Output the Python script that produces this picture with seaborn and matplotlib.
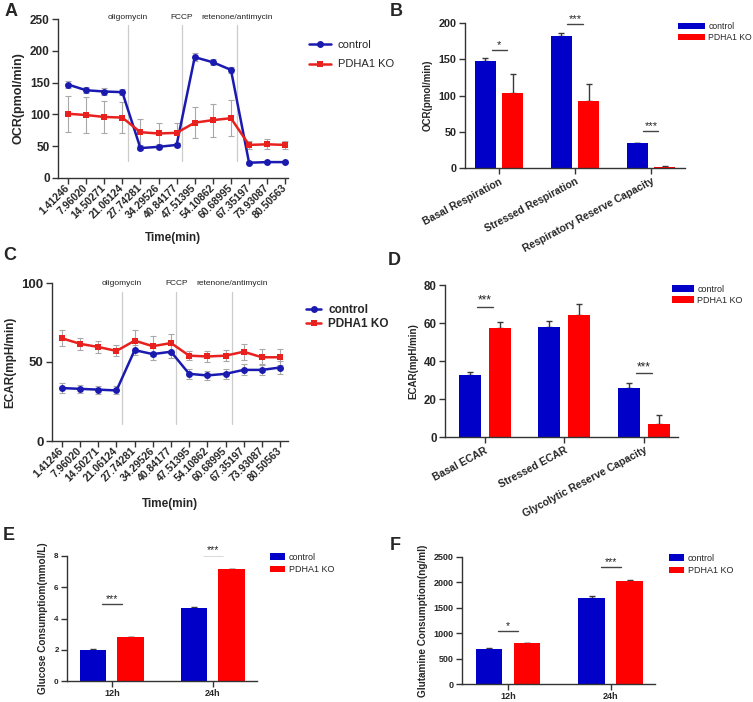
import numpy as np
import pandas as pd
import matplotlib
matplotlib.use("Agg")
import matplotlib.pyplot as plt
import seaborn as sns

# ---- data ----
time_labels = ["1.41246", "7.96020", "14.50271", "21.06124", "27.74281", "34.29526",
               "40.84177", "47.51395", "54.10862", "60.68995", "67.35197", "73.93087", "80.50563"]
injections = ["oligomycin", "FCCP", "retenone/antimycin"]
groups = ["control", "PDHA1 KO"]

ocr_ctrl = [147, 138, 136, 135, 47, 49, 52, 190, 182, 170, 24, 25, 25]
ocr_ctrl_err = [5, 5, 5, 5, 3, 3, 3, 6, 5, 5, 2, 2, 2]
ocr_ko = [101, 99, 96, 95, 72, 70, 71, 87, 91, 94, 52, 53, 52]
ocr_ko_err = [28, 29, 25, 25, 20, 17, 16, 24, 26, 28, 6, 8, 6]

ecar_ctrl = [33.5, 33, 32.5, 32, 57.5, 55, 56.5, 42.5, 41.5, 42.5, 45, 45, 46.5]
ecar_ctrl_err = [3, 2.5, 2.5, 2.5, 3, 4, 4, 3, 3, 3, 3.5, 3.5, 4]
ecar_ko = [65, 61.5, 59.5, 57, 63.5, 60, 62, 54, 53.5, 54, 56.5, 53, 53]
ecar_ko_err = [5, 4, 4, 3.5, 7, 6.5, 6, 3, 3.5, 3.5, 5, 5, 5]

ocr_cats = ["Basal Respiration", "Stressed Respiration", "Respiratory Reserve Capacity"]
ocr_bar_ctrl = [148, 182, 34]
ocr_bar_ctrl_err = [4, 4, 1]
ocr_bar_ko = [103, 92, 2]
ocr_bar_ko_err = [26, 24, 1]
ocr_sig = [(0, 163, "*"), (1, 199, "***"), (2, 51, "***")]

ecar_cats = ["Basal ECAR", "Stressed ECAR", "Glycolytic Reserve Capacity"]
ecar_bar_ctrl = [32.5, 58, 26]
ecar_bar_ctrl_err = [1.5, 3, 2.5]
ecar_bar_ko = [57.5, 64, 7]
ecar_bar_ko_err = [3, 6, 4.5]
ecar_sig = [(0, 68.6, "***"), (2, 33.7, "***")]

hours = ["12h", "24h"]
glc_ctrl = [2.0, 4.7]
glc_ctrl_err = [0.03, 0.02]
glc_ko = [2.8, 7.15]
glc_ko_err = [0.03, 0.03]
glc_sig = [(0, 4.9, "***"), (1, 8.06, "***")]

gln_ctrl = [690, 1690]
gln_ctrl_err = [15, 45]
gln_ko = [800, 2030]
gln_ko_err = [5, 10]
gln_sig = [(0, 1049, "*"), (1, 2303, "***")]

# ---- style ----
sns.set_theme(style="ticks")
plt.rcParams["font.family"] = ["Liberation Sans", "DejaVu Sans"]
plt.rcParams["axes.linewidth"] = 1.0
plt.rcParams["axes.edgecolor"] = "#333333"

line_pal = {"control": "#1a1ab0", "PDHA1 KO": "#e8201e"}
bar_pal = {"control": "#0000c8", "PDHA1 KO": "#ff0000"}

W, H = 753, 702
fig = plt.figure(figsize=(W / 100, H / 100), dpi=100)


def px_axes(l, r, t, b):
    return fig.add_axes([l / W, 1 - b / H, (r - l) / W, (b - t) / H])


def fig_xy(x, y):
    return (x / W, 1 - y / H)


def style_axes(ax, tick_size):
    sns.despine(ax=ax)
    ax.tick_params(axis="both", direction="out", length=4, width=1, color="#333333",
                   labelsize=tick_size, pad=2)
    for lab in ax.get_yticklabels():
        lab.set_fontweight("bold")


def line_panel(ax, ctrl, ctrl_err, ko, ko_err, ylab, ylim, yticks, ylab_size, tick_size,
               leg_xy, leg_bold, leg_size, leg_hl, leg_ls, ann_y, ann_size, vline_span, xlim):
    x = np.arange(len(time_labels))
    df = pd.DataFrame({"t": np.concatenate([x, x]),
                       "v": ctrl + ko,
                       "group": [groups[0]] * len(x) + [groups[1]] * len(x)})
    for vals, errs in [(ctrl, ctrl_err), (ko, ko_err)]:
        ax.errorbar(x, vals, yerr=errs, fmt="none", ecolor="#a8a8a8", elinewidth=0.8,
                    capsize=2.5, capthick=0.8, zorder=1)
    sns.lineplot(data=df, x="t", y="v", hue="group", style="group", palette=line_pal,
                 markers={"control": "o", "PDHA1 KO": "s"}, dashes=False,
                 markersize=5, markeredgewidth=0, linewidth=1.8, ax=ax, zorder=3)
    # injection markers between measurement points
    for pos, name in zip([3.3, 6.3, 9.35], injections):
        ax.plot([pos, pos], vline_span, color="#cccccc", lw=0.9, zorder=0)
        ax.text(pos, ann_y, name, ha="center", va="center", fontsize=ann_size,
                clip_on=False, color="#222222")
    ax.set_xlim(*xlim)
    ax.set_ylim(*ylim)
    ax.set_yticks(yticks)
    ax.set_xticks(x)
    ax.set_xticklabels(time_labels, rotation=45, ha="right", va="center",
                       rotation_mode="anchor", fontweight="bold", fontsize=7.5)
    ax.set_ylabel(ylab, fontsize=ylab_size, fontweight="bold")
    ax.set_xlabel("Time(min)", fontsize=8.5, fontweight="bold", va="top")
    style_axes(ax, tick_size)
    for lab in ax.get_xticklabels():
        lab.set_fontsize(7.5)
    leg = ax.get_legend()
    handles = leg.legend_handles
    labels = [t.get_text() for t in leg.get_texts()]
    ax.legend(handles, labels, loc="upper left", bbox_to_anchor=fig_xy(*leg_xy),
              bbox_transform=fig.transFigure, frameon=False, borderpad=0,
              borderaxespad=0, handlelength=leg_hl, handletextpad=0.6,
              labelspacing=leg_ls,
              prop={"size": leg_size, "weight": "bold" if leg_bold else "normal"})


def bar_panel(ax, cats, ctrl, ctrl_err, ko, ko_err, sig, ylab, ylim, yticks, xlim,
              width, gap, tick_size, xtick_size, ylab_size, rot, leg_xy, leg_size,
              leg_hl, leg_ls, star_size):
    df = pd.DataFrame({"cat": cats + cats, "v": ctrl + ko,
                       "group": [groups[0]] * len(cats) + [groups[1]] * len(cats)})
    sns.barplot(data=df, x="cat", y="v", hue="group", palette=bar_pal, errorbar=None,
                saturation=1, width=width, gap=gap, linewidth=0, ax=ax, zorder=2)
    for cont, errs in zip(ax.containers, [ctrl_err, ko_err]):
        xs = [p.get_x() + p.get_width() / 2 for p in cont.patches]
        hs = [p.get_height() for p in cont.patches]
        ax.errorbar(xs, hs, yerr=[np.zeros(len(errs)), errs], fmt="none",
                    ecolor="#3a3a3a", elinewidth=1, capsize=2.5, capthick=1, zorder=1)
    for i, yv, s in sig:
        ax.plot([i - 0.1, i + 0.1], [yv, yv], color="#444444", lw=1, zorder=3)
        ax.text(i, yv, s, ha="center", va="bottom", fontsize=star_size, color="#222222")
    ax.set_xlim(*xlim)
    ax.set_ylim(*ylim)
    ax.set_yticks(yticks)
    ax.set_xlabel("")
    ax.set_ylabel(ylab, fontsize=ylab_size, fontweight="bold")
    style_axes(ax, tick_size)
    ax.set_xticks(range(len(cats)))
    if rot:
        ax.set_xticklabels(cats, rotation=rot, ha="right", va="top", rotation_mode="anchor",
                           fontweight="bold", fontsize=xtick_size)
    else:
        ax.set_xticklabels(cats, fontweight="bold", fontsize=xtick_size)
    leg = ax.get_legend()
    handles = leg.legend_handles
    labels = [t.get_text() for t in leg.get_texts()]
    ax.legend(handles, labels, loc="upper left", bbox_to_anchor=fig_xy(*leg_xy),
              bbox_transform=fig.transFigure, frameon=False, borderpad=0,
              borderaxespad=0, handlelength=leg_hl, handleheight=0.8,
              handletextpad=0.4, labelspacing=leg_ls, prop={"size": leg_size})


# A
axA = px_axes(58, 288, 19, 178)
line_panel(axA, ocr_ctrl, ocr_ctrl_err, ocr_ko, ocr_ko_err, "OCR(pmol/min)",
           (0, 250), range(0, 251, 50), 9, 8.5, (309, 40), False, 8, 2.0, 0.85,
           253, 6, (27, 240), (-0.55, 12.15))
axA.xaxis.set_label_coords(0.5, -0.34)

# B
axB = px_axes(465, 685, 23, 168)
bar_panel(axB, ocr_cats, ocr_bar_ctrl, ocr_bar_ctrl_err, ocr_bar_ko, ocr_bar_ko_err, ocr_sig,
          "OCR(pmol/min)", (0, 200), range(0, 201, 50), (-0.45, 2.45), 0.72, 0.23,
          7.8, 7.5, 7, 28, (678, 22), 6.2, 3.1, 0.25, 8)

# C
axC = px_axes(52, 288, 283, 441)
line_panel(axC, ecar_ctrl, ecar_ctrl_err, ecar_ko, ecar_ko_err, "ECAR(mpH/min)",
           (0, 100), [0, 50, 100], 8.5, 9.5, (306, 304), True, 8.5, 1.3, 0.15,
           100, 6, (11, 94), (-0.55, 12.44))
axC.xaxis.set_label_coords(0.5, -0.36)

# D
axD = px_axes(445, 678, 285, 437)
bar_panel(axD, ecar_cats, ecar_bar_ctrl, ecar_bar_ctrl_err, ecar_bar_ko, ecar_bar_ko_err,
          ecar_sig, "ECAR(mpH/min)", (0, 80), range(0, 81, 20), (-0.5, 2.43), 0.76, 0.27,
          8.3, 7.5, 7, 28, (672, 285), 6.5, 2.4, 0.2, 8.5)

# E
axE = px_axes(67, 257, 556, 681)
bar_panel(axE, hours, glc_ctrl, glc_ctrl_err, glc_ko, glc_ko_err, glc_sig,
          "Glucose Consumptiom(mmol/L)", (0, 8), range(0, 9, 2), (-0.445, 1.436), 0.75, 0.29,
          5.8, 6.5, 7.2, 0, (270, 553), 6.5, 1.7, 0.35, 7.5)

# F
axF = px_axes(462, 655, 557, 684)
bar_panel(axF, hours, gln_ctrl, gln_ctrl_err, gln_ko, gln_ko_err, gln_sig,
          "Glutamine Consumptiom(ng/ml)", (0, 2500), range(0, 2501, 500), (-0.447, 1.43),
          0.74, 0.3, 6.5, 6.5, 7.2, 0, (669, 554), 6.5, 1.7, 0.35, 7.5)

for letter, (lx, ly) in zip("ABCDEF", [(5, 3), (390, 3), (3, 247), (388, 252), (3, 527), (390, 537)]):
    fig.text(*fig_xy(lx, ly), letter, fontsize=13, fontweight="bold", ha="left", va="top")

fig.savefig("out.png", dpi=100)
